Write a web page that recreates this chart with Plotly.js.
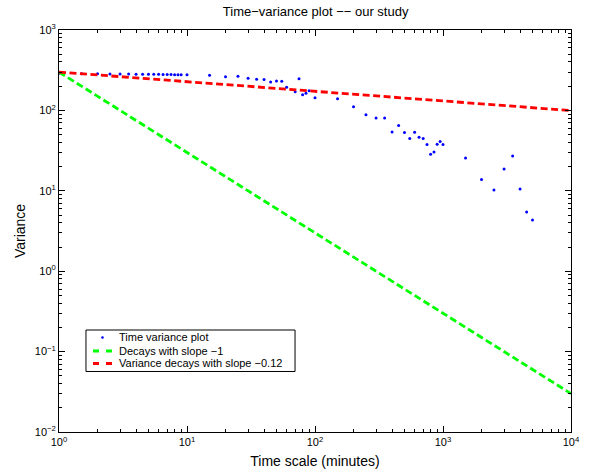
<!DOCTYPE html>
<html>
<head>
<meta charset="utf-8">
<script src="https://cdn.plot.ly/plotly-3.0.1.min.js"></script>
<style>html,body{margin:0;padding:0;background:#fff;}#chart{width:590px;height:474px;}</style>
</head>
<body>
<div id="chart"></div>
<script>
// Time scale (minutes) for the observed variance points
const timeScale = [1, 1.5, 2, 2.5, 3, 3.5, 4, 4.5, 5, 5.5, 6, 6.5, 7, 7.5, 8, 8.5, 9, 10,
  15, 20, 25, 30, 35, 40, 45, 50, 55, 60, 70, 75, 80, 85, 90, 100,
  150, 200, 250, 300, 350, 400, 450, 500, 550, 600, 650, 700, 750, 800, 850, 900, 950, 1000,
  1500, 2000, 2500, 3000, 3500, 4000, 4500, 5000];
// Observed variance
const variance = [290, 285, 285, 284, 284, 283, 282, 282, 281, 281, 281, 280, 279, 279, 277, 277, 277, 277,
  274, 263, 265, 251, 244, 242, 225, 232, 230, 194, 170, 248, 157, 163, 175, 144,
  140, 111, 88, 80.5, 80.5, 54, 64.7, 53, 44.6, 53.4, 46.3, 44.6, 37.6, 28.5, 30.4, 37.9, 41, 37.6,
  25.6, 13.8, 10.2, 18.7, 27.1, 10.5, 5.44, 4.33];
// Reference lines (endpoints at x = 1 and x = 10^4)
const lineX = [1, 10000];
const slope1Y = [300, 0.03];
const slope012Y = [300, 99.5];
// Legend labels
const seriesNames = ["Time variance plot", "Decays with slope −1", "Variance decays with slope −0.12"];
const seriesColors = ["#0000ff", "#00ff00", "#ff0000"];
// Tick labels
const xTickVals = [1, 10, 100, 1000, 10000];
const xTickText = ["10<sup>0</sup>", "10<sup>1</sup>", "10<sup>2</sup>", "10<sup>3</sup>", "10<sup>4</sup>"];
const yTickVals = [0.01, 0.1, 1, 10, 100, 1000];
const yTickText = ["10<sup>−2</sup>", "10<sup>−1</sup>", "10<sup>0</sup>", "10<sup>1</sup>", "10<sup>2</sup>", "10<sup>3</sup>"];

function minorVals(lo, hi) {
  const v = [];
  for (let e = lo; e < hi; e++) for (let m = 2; m <= 9; m++) v.push(m * Math.pow(10, e));
  return v;
}

const font = "Liberation Sans, Arial, Helvetica, sans-serif";

const traces = [
  {x: timeScale, y: variance, mode: "markers", type: "scatter", name: seriesNames[0],
   marker: {color: seriesColors[0], size: 3}},
  {x: lineX, y: slope1Y, mode: "lines", type: "scatter", name: seriesNames[1],
   line: {color: seriesColors[1], width: 2.8, dash: "7px,3.5px"}},
  {x: lineX, y: slope012Y, mode: "lines", type: "scatter", name: seriesNames[2],
   line: {color: seriesColors[2], width: 2.8, dash: "7px,3.5px"}}
];

const axisCommon = {
  type: "log", showgrid: false, zeroline: false, showline: true, linecolor: "#000", linewidth: 1,
  mirror: "ticks", ticks: "inside", ticklen: 6, tickcolor: "#000", tickwidth: 1,
  tickfont: {family: font, size: 11, color: "#000"}, tickmode: "array"
};

// Compact MATLAB-style legend box (paper coordinates)
const lg = {x0: 0.0527, x1: 0.461, y0: 0.1505, y1: 0.2537,
            rows: [0.2351, 0.2015, 0.1704], symX0: 0.0664, symX1: 0.1035, textX: 0.1152};
const shapes = [
  {type: "rect", xref: "paper", yref: "paper", x0: lg.x0, x1: lg.x1, y0: lg.y0, y1: lg.y1,
   line: {color: "#000", width: 1}, fillcolor: "#fff", layer: "above"},
  {type: "circle", xref: "paper", yref: "paper", xsizemode: "pixel", ysizemode: "pixel",
   xanchor: (lg.symX0 + lg.symX1) / 2, yanchor: lg.rows[0], x0: -1.3, x1: 1.3, y0: -1.3, y1: 1.3,
   fillcolor: seriesColors[0], line: {width: 0}, layer: "above"},
  {type: "line", xref: "paper", yref: "paper", x0: lg.symX0, x1: lg.symX1, y0: lg.rows[1], y1: lg.rows[1],
   line: {color: seriesColors[1], width: 3, dash: "6px,7px"}, layer: "above"},
  {type: "line", xref: "paper", yref: "paper", x0: lg.symX0, x1: lg.symX1, y0: lg.rows[2], y1: lg.rows[2],
   line: {color: seriesColors[2], width: 3, dash: "6px,7px"}, layer: "above"}
];
const annotations = seriesNames.map((n, i) => ({
  text: n, xref: "paper", yref: "paper", x: lg.textX, y: lg.rows[i], xanchor: "left", yanchor: "middle",
  showarrow: false, font: {family: font, size: 11, color: "#000"}, borderpad: 0
}));

const layout = {
  width: 590, height: 474,
  margin: {l: 59, r: 19, t: 30, b: 42},
  paper_bgcolor: "#fff", plot_bgcolor: "#fff",
  showlegend: false,
  title: {text: "Time−variance plot −− our study", font: {family: font, size: 13, color: "#000"},
          x: 0.535, xanchor: "center", y: 0.975, yanchor: "middle"},
  xaxis: Object.assign({}, axisCommon, {
    range: [0, 4], tickvals: xTickVals, ticktext: xTickText,
    minor: {tickmode: "array", tickvals: minorVals(0, 4), ticks: "inside", ticklen: 3, tickcolor: "#000"},
    title: {text: "Time scale (minutes)", font: {family: font, size: 14, color: "#000"}, standoff: 8}
  }),
  yaxis: Object.assign({}, axisCommon, {
    range: [-2, 3], tickvals: yTickVals, ticktext: yTickText,
    minor: {tickmode: "array", tickvals: minorVals(-2, 3), ticks: "inside", ticklen: 3, tickcolor: "#000"},
    title: {text: "Variance", font: {family: font, size: 14, color: "#000"}, standoff: 5}
  }),
  shapes: shapes,
  annotations: annotations
};

Plotly.newPlot("chart", traces, layout, {staticPlot: true, displayModeBar: false});
</script>
</body>
</html>
